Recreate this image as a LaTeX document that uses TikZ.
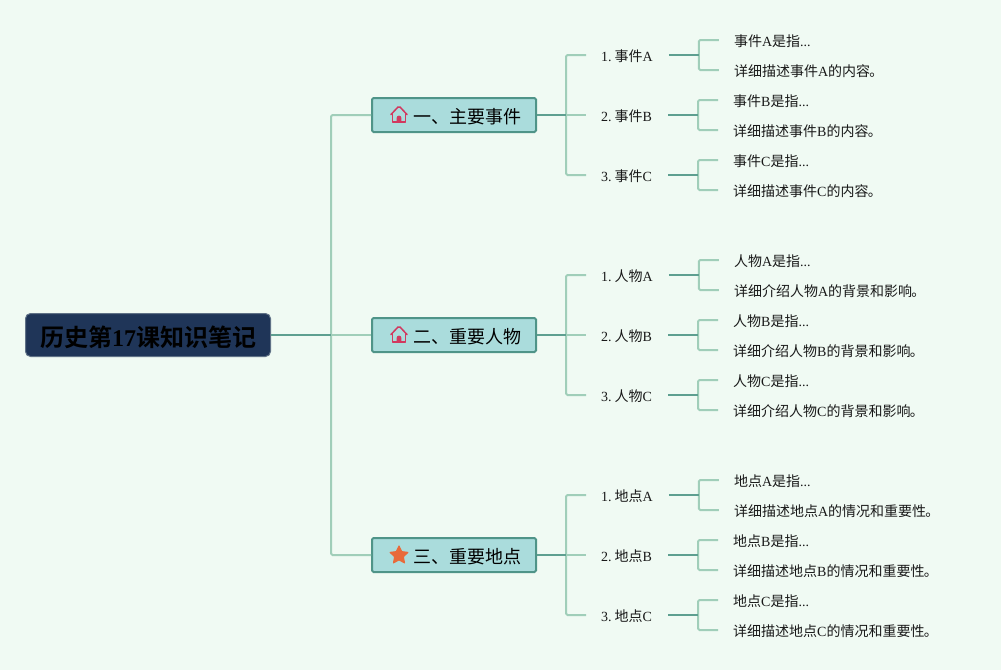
\documentclass[tikz,border=0pt]{standalone}
\usepackage{fontspec}
\setmainfont{Liberation Serif}
\newfontfamily\cjk{Noto Sans CJK SC}[BoldFont={Noto Sans CJK SC Bold}]
\newcommand{\C}[1]{{\cjk #1}}
\newcommand{\Stop}{\kern-0.8pt{\cjk 。}}
\newcommand{\Num}[1]{#1.\hspace{3pt}}
\usetikzlibrary{shapes.geometric,positioning,calc}
\definecolor{pagebg}{HTML}{F0FAF3}
\definecolor{rootfill}{HTML}{1F3558}
\definecolor{rootedge}{HTML}{5F7186}
\definecolor{boxfill}{HTML}{AADCDC}
\definecolor{boxedge}{HTML}{4F9488}
\definecolor{darkline}{HTML}{5E9F90}
\definecolor{lightline}{HTML}{A0CEB9}
\definecolor{housepink}{HTML}{D2385F}
\definecolor{staror}{HTML}{E86A3A}
\tikzset{
  rootbox/.style={draw=rootedge,line width=1pt,fill=rootfill,rounded corners=5pt,minimum width=245pt,minimum height=43pt,inner sep=0pt,text height=23pt,text depth=1pt,font=\fontsize{24}{28}\selectfont\bfseries,text=black},
  branchbox/.style={draw=boxedge,line width=2pt,fill=boxfill,rounded corners=1.5pt,minimum width=164pt,minimum height=34pt,inner sep=0pt,text height=19pt,text depth=1.2pt,font=\fontsize{18}{22}\selectfont,text=black},
  midnode/.style={anchor=west,inner xsep=15pt,inner ysep=2pt,text height=14pt,text depth=1pt,font=\fontsize{14}{17}\selectfont,text=black!90},
  leafnode/.style={anchor=west,inner xsep=15pt,inner ysep=2pt,text height=14pt,text depth=1pt,font=\fontsize{14}{17}\selectfont,text=black!90},
  heavy/.style={draw=darkline,line width=2pt},
  soft/.style={draw=lightline,line width=2pt,rounded corners=1.5pt},
  houseicon/.style={draw=housepink,line width=1.5pt,line join=round,line cap=round},
}
% id, y, mid text, leaf 1 text, leaf 2 text
\newcommand{\twig}[5]{%
  \node[midnode] (m#1) at (586,#2) {#3\hspace*{0.8pt}};
  \node[leafnode,right=50pt of m#1.east,yshift=15pt] (la#1) {#4};
  \node[leafnode,right=50pt of m#1.east,yshift=-15pt] (lb#1) {#5};
  \coordinate (f#1) at ($(m#1.east)+(30,0)$);
  \draw[soft] (f#1) |- (la#1.west);
  \draw[soft] (f#1) |- (lb#1.west);
  \draw[heavy] (m#1.east) -- (f#1);
}
\begin{document}
\begin{tikzpicture}[x=1pt,y=-1pt]
\useasboundingbox[fill=pagebg] (0,0) rectangle (1001,670);
\node[rootbox] (root) at (148,335) {\C{历史第}17\C{课知识笔记}};
\node[branchbox] (b1) at (454,115) {\hspace*{27pt}\C{一、主要事件}};
\node[branchbox] (b2) at (454,335) {\hspace*{27pt}\C{二、重要人物}};
\node[branchbox] (b3) at (454,555) {\hspace*{27pt}\C{三、重要地点}};
\coordinate (rj) at (331,335);
\draw[soft] (rj) |- (b1.west);
\draw[soft] (rj) |- (b3.west);
\draw[soft] (rj) -- (b2.west);
\draw[heavy] (root.east) -- (rj);
\foreach \b in {1,2,3}{
  \coordinate (j\b) at ($(b\b.east)+(29,0)$);
}
\twig{11}{55}{\Num{1}\C{事件}A}{\C{事件}A\C{是指}...}{\C{详细描述事件}A\C{的内容}\Stop}
\twig{12}{115}{\Num{2}\C{事件}B}{\C{事件}B\C{是指}...}{\C{详细描述事件}B\C{的内容}\Stop}
\twig{13}{175}{\Num{3}\C{事件}C}{\C{事件}C\C{是指}...}{\C{详细描述事件}C\C{的内容}\Stop}
\twig{21}{275}{\Num{1}\C{人物}A}{\C{人物}A\C{是指}...}{\C{详细介绍人物}A\C{的背景和影响}\Stop}
\twig{22}{335}{\Num{2}\C{人物}B}{\C{人物}B\C{是指}...}{\C{详细介绍人物}B\C{的背景和影响}\Stop}
\twig{23}{395}{\Num{3}\C{人物}C}{\C{人物}C\C{是指}...}{\C{详细介绍人物}C\C{的背景和影响}\Stop}
\twig{31}{495}{\Num{1}\C{地点}A}{\C{地点}A\C{是指}...}{\C{详细描述地点}A\C{的情况和重要性}\Stop}
\twig{32}{555}{\Num{2}\C{地点}B}{\C{地点}B\C{是指}...}{\C{详细描述地点}B\C{的情况和重要性}\Stop}
\twig{33}{615}{\Num{3}\C{地点}C}{\C{地点}C\C{是指}...}{\C{详细描述地点}C\C{的情况和重要性}\Stop}
\foreach \b in {1,2,3}{
  \draw[soft] (j\b) |- (m\b1.west);
  \draw[soft] (j\b) |- (m\b3.west);
  \draw[soft] (j\b) -- (m\b2.west);
  \draw[heavy] (b\b.east) -- (j\b);
}
\foreach \b in {1,2}{
  \begin{scope}[shift={($(b\b.west)+(28,0)$)}]
    \draw[houseicon] (-8,-0.5) -- (-1,-8) .. controls (-0.4,-8.6) and (0.4,-8.6) .. (1,-8) -- (8,-0.5);
    \draw[houseicon] (-6.5,-2) -- (-6.5,7) -- (6.5,7) -- (6.5,-2);
    \fill[housepink] (-2.4,7.5) -- (-2.4,3) arc[start angle=180,end angle=360,radius=2.4] -- (2.4,7.5) -- cycle;
  \end{scope}
}
\node[star,star points=5,star point ratio=2.05,fill=staror,draw=staror,line width=1.2pt,line join=round,minimum size=18.5pt,inner sep=0pt] (s3) at ($(b3.west)+(28,0.3)$) {};
\end{tikzpicture}
\end{document}
